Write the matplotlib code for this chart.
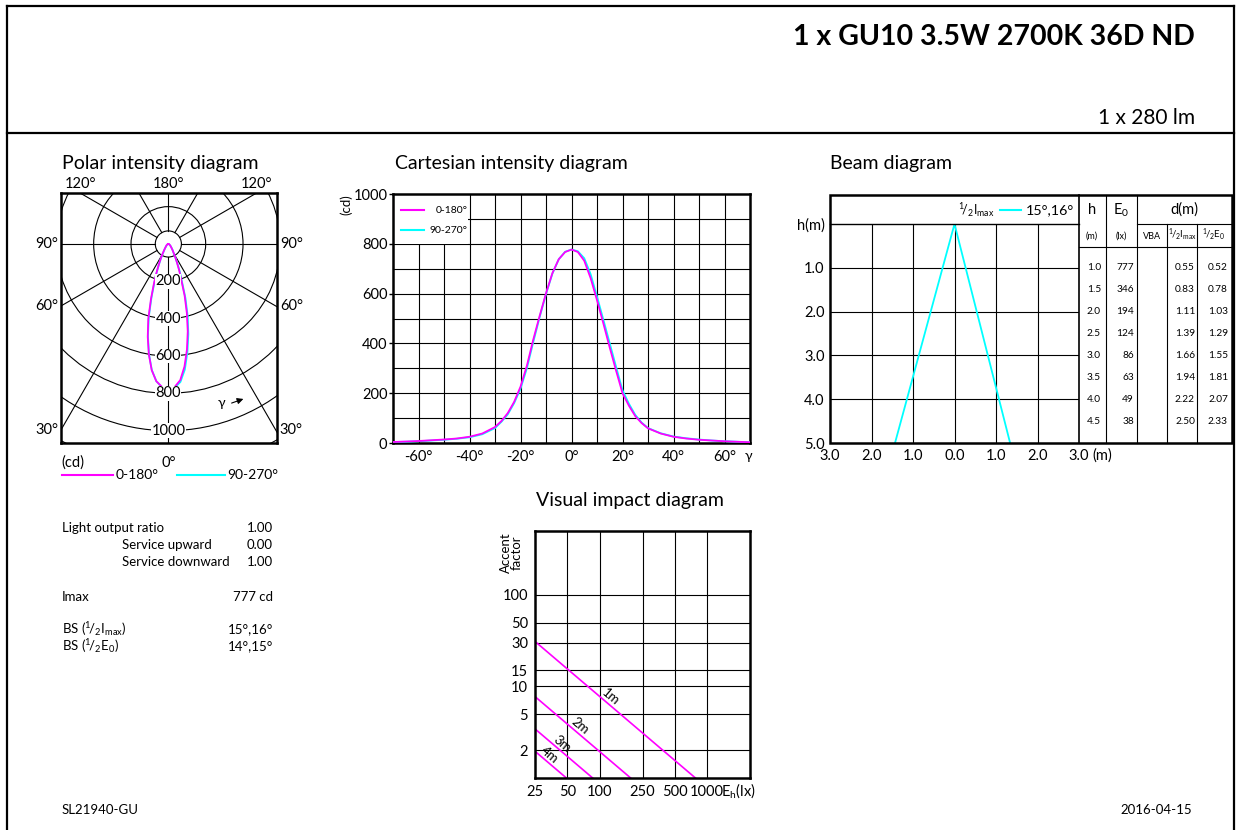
import numpy as np
import matplotlib.pyplot as plt
from matplotlib.patches import Circle, Rectangle
from matplotlib.transforms import blended_transform_factory

plt.rcParams['font.family'] = ['Lato', 'DejaVu Sans']
plt.rcParams['mathtext.fontset'] = 'custom'
plt.rcParams['mathtext.rm'] = 'Lato'
plt.rcParams['mathtext.it'] = 'Lato:italic'
plt.rcParams['mathtext.bf'] = 'Lato:bold'

# Data
title = "1 x GU10 3.5W 2700K 36D ND"
lamp_flux = "1 x 280 lm"
code = "SL21940-GU"
date = "2016-04-15"

gamma = [-90, -80, -75, -70, -65, -60, -55, -50, -45, -40, -35, -30, -27.5, -25, -22.5,
         -20, -17.5, -15, -12.5, -10, -7.5, -5, -2.5, 0, 2.5, 5, 7.5, 10, 12.5, 15,
         17.5, 20, 22.5, 25, 27.5, 30, 35, 40, 45, 50, 55, 60, 65, 70, 75, 80, 90]
i_c0 = [0, 2, 3, 4, 6, 8, 11, 14, 18, 25, 38, 64, 88, 120, 165,
        226, 310, 415, 510, 601, 682, 738, 767, 777, 767, 732, 662, 574, 480, 383,
        290, 200, 150, 108, 80, 59, 38, 25, 18, 13, 10, 7, 5, 3, 2, 1, 0]
i_c90 = [0, 2, 3, 4, 5, 7, 10, 13, 17, 23, 35, 60, 85, 115, 160,
         218, 300, 405, 505, 598, 680, 738, 768, 777, 770, 742, 678, 588, 495, 400,
         305, 212, 158, 113, 82, 60, 39, 26, 19, 14, 10, 7, 5, 3, 2, 1, 0]

heights = [1.0, 1.5, 2.0, 2.5, 3.0, 3.5, 4.0, 4.5]
e0 = [777, 346, 194, 124, 86, 63, 49, 38]
d_half_imax = [0.55, 0.83, 1.11, 1.39, 1.66, 1.94, 2.22, 2.50]
d_half_e0 = [0.52, 0.78, 1.03, 1.29, 1.55, 1.81, 2.07, 2.33]
beam_angles = (16, 15)   # left, right half angle (deg)

vi_heights = [1, 2, 3, 4]
vi_e0 = [777, 194, 86, 49]

lor, lor_up, lor_down = 1.00, 0.00, 1.00
imax = 777
bs_imax = (15, 16)
bs_e0 = (14, 15)

MAG = '#ff00ff'
CYA = '#00ffff'
HALF = r'$^{1}\!/_{2}$'

W, H = 1241, 830
fig = plt.figure(figsize=(W / 100, H / 100), dpi=100)


def px_axes(x0, y0, x1, y1):
    return fig.add_axes([x0 / W, 1 - y1 / H, (x1 - x0) / W, (y1 - y0) / H])


# overlay in pixel coordinates for frame and loose text
ov = fig.add_axes([0, 0, 1, 1])
ov.set_xlim(0, W)
ov.set_ylim(H, 0)
ov.axis('off')
ov.set_zorder(10)
ov.patch.set_visible(False)

ov.plot([7, 7], [6, H], 'k', lw=1.6)
ov.plot([7, 1234], [6, 6], 'k', lw=1.6)
ov.plot([1234, 1234], [6, H], 'k', lw=1.6)
ov.plot([7, 1234], [133, 133], 'k', lw=1.6)

ov.text(1195, 37, title, ha='right', va='center', fontsize=20.5, fontweight='bold')
ov.text(1195, 118, lamp_flux, ha='right', va='center', fontsize=15)
ov.text(62, 810, code, ha='left', va='center', fontsize=9.5)
ov.text(1192, 810, date, ha='right', va='center', fontsize=9.5)

ov.text(62, 163, "Polar intensity diagram", ha='left', va='center', fontsize=14)
ov.text(395, 164, "Cartesian intensity diagram", ha='left', va='center', fontsize=14)
ov.text(830, 163, "Beam diagram", ha='left', va='center', fontsize=14)
ov.text(536, 500, "Visual impact diagram", ha='left', va='center', fontsize=14)

# ---------------- Polar intensity diagram
pol = px_axes(61, 193, 277, 443)
pol.set_xlim(-575, 582)
pol.set_ylim(-1066, 273)
pol.set_xticks([])
pol.set_yticks([])
for s in pol.spines.values():
    s.set_linewidth(1.8)
for r in range(200, 1801, 200):
    pol.add_patch(Circle((0, 0), r, fill=False, ec='k', lw=0.8))
pol.add_patch(Circle((0, 0), 70, fill=False, ec='k', lw=0.8))
for a in range(0, 360, 30):
    t = np.radians(a)
    pol.plot([70 * np.sin(t), 2000 * np.sin(t)], [-70 * np.cos(t), -2000 * np.cos(t)], 'k', lw=0.8)
for r in range(200, 1001, 200):
    pol.text(0, -r, str(r), ha='center', va='center', fontsize=10.5,
             bbox=dict(fc='white', ec='none', pad=0.2))
g = np.radians(gamma)
pol.plot(np.array(i_c90) * np.sin(g), -np.array(i_c90) * np.cos(g), color=CYA, lw=1.3)
pol.plot(np.array(i_c0) * np.sin(g), -np.array(i_c0) * np.cos(g), color=MAG, lw=1.3)

for a in (90, 60, 30):
    t = np.radians(a)
    y = -575 * np.cos(t) / np.sin(t)
    pol.text(-590, y, f"{a}°", ha='right', va='center', fontsize=10.5, clip_on=False)
    pol.text(597, y, f"{a}°", ha='left', va='center', fontsize=10.5, clip_on=False)
t = np.radians(120)
xt = 273 * np.sin(t) / -np.cos(t)
for xx, lab in ((-xt, "120°"), (0, "180°"), (xt, "120°")):
    pol.text(xx, 322, lab, ha='center', va='center', fontsize=10.5, clip_on=False)
pol.text(0, -1133, "0°", ha='center', va='top', fontsize=10.5, clip_on=False)
pol.text(-575, -1133, "(cd)", ha='left', va='top', fontsize=10.5, clip_on=False)
ov.text(221, 403, "γ", ha='center', va='center', fontsize=10)
ov.annotate("", xy=(246, 398), xytext=(229, 404),
            arrowprops=dict(arrowstyle='-|>', color='k', lw=0.8, mutation_scale=9))

ov.plot([62, 113], [475, 475], color=MAG, lw=1.5)
ov.text(116, 475, "0-180°", ha='left', va='center', fontsize=10)
ov.plot([177, 225], [475, 475], color=CYA, lw=1.5)
ov.text(227, 475, "90-270°", ha='left', va='center', fontsize=10)

# ---------------- Cartesian intensity diagram
car = px_axes(393, 194, 750, 443)
car.set_xlim(-70, 70)
car.set_ylim(0, 1000)
for s in car.spines.values():
    s.set_linewidth(1.8)
car.vlines(np.arange(-60, 61, 10), 0, 1000, colors='k', lw=0.8, zorder=1)
car.hlines(np.arange(100, 1000, 100), -70, 70, colors='k', lw=0.8, zorder=1)
car.add_patch(Rectangle((-70, 801), 29.6, 199, fc='white', ec='none', zorder=2))
xt_c = list(range(-60, 61, 20))
car.set_xticks(xt_c, [f"{v}°" for v in xt_c])
car.set_yticks(range(0, 1001, 200))
car.tick_params(axis='x', length=0, labelsize=10.5, pad=5)
car.tick_params(axis='y', length=3, width=1, labelsize=10.5, pad=1)
car.plot(gamma, i_c90, color=CYA, lw=1.3, zorder=3)
car.plot(gamma, i_c0, color=MAG, lw=1.3, zorder=4)
car.plot([-67, -58], [935, 935], color=MAG, lw=1.5, zorder=3)
car.text(-40.8, 935, "0-180°", ha='right', va='center', fontsize=7.5, zorder=3)
car.plot([-67, -58], [855, 855], color=CYA, lw=1.5, zorder=3)
car.text(-40.8, 855, "90-270°", ha='right', va='center', fontsize=7.5, zorder=3)
ov.text(346, 205, "(cd)", rotation=90, ha='center', va='center', fontsize=9.5)
ov.text(748, 456, "γ", ha='center', va='center', fontsize=10)

# ---------------- Beam diagram
bm = px_axes(830, 224, 1079, 443)
bm.set_xlim(-3, 3)
bm.set_ylim(5, 0)
for s in bm.spines.values():
    s.set_visible(False)
bm.vlines(np.arange(-2, 3, 1), 0, 5, colors='k', lw=0.8)
bm.hlines(np.arange(1, 5, 1), -3, 3, colors='k', lw=0.8)
bm.set_yticks(range(0, 6), ['h(m)'] + [f"{v:.1f}" for v in range(1, 6)])
bm.set_xticks(range(-3, 4), [f"{abs(v):.1f}" for v in range(-3, 4)])
bm.tick_params(length=0, labelsize=10.5, pad=4)
hmax = 5
bm.plot([-hmax * np.tan(np.radians(beam_angles[0])), 0, hmax * np.tan(np.radians(beam_angles[1]))],
        [hmax, 0, hmax], color=CYA, lw=1.3)
ov.text(1092, 456, "(m)", ha='left', va='center', fontsize=10.5)

ov.add_patch(Rectangle((830, 195), 402, 248, fill=False, ec='k', lw=1.8))
ov.plot([830, 1079], [224, 224], 'k', lw=1.0)
ov.plot([1079, 1079], [195, 443], 'k', lw=1.2)
for xv in (1106, 1137):
    ov.plot([xv, xv], [195, 443], 'k', lw=0.8)
for xv in (1167, 1197):
    ov.plot([xv, xv], [224, 443], 'k', lw=0.8)
ov.plot([1137, 1232], [224, 224], 'k', lw=0.8)
ov.plot([1079, 1232], [247, 247], 'k', lw=0.8)

ov.text(1092, 210, "h", ha='center', va='center', fontsize=10.5)
ov.text(1121, 210, r"E$_0$", ha='center', va='center', fontsize=10.5)
ov.text(1184, 210, "d(m)", ha='center', va='center', fontsize=10.5)
ov.text(1092, 236, "(m)", ha='center', va='center', fontsize=6.5)
ov.text(1121, 236, "(lx)", ha='center', va='center', fontsize=6.5)
ov.text(1152, 236, "VBA", ha='center', va='center', fontsize=6.5)
ov.text(1182, 235, HALF + r"I$_{\rm max}$", ha='center', va='center', fontsize=7)
ov.text(1214, 235, HALF + r"E$_0$", ha='center', va='center', fontsize=7)

tr = blended_transform_factory(ov.transData, bm.transData)
for h, e, d1, d2 in zip(heights, e0, d_half_imax, d_half_e0):
    ov.text(1087, h, f"{h:.1f}", transform=tr, ha='left', va='center', fontsize=7.3)
    ov.text(1134, h, f"{e}", transform=tr, ha='right', va='center', fontsize=7.3)
    ov.text(1195, h, f"{d1:.2f}", transform=tr, ha='right', va='center', fontsize=7.3)
    ov.text(1228, h, f"{d2:.2f}", transform=tr, ha='right', va='center', fontsize=7.3)

ov.text(995, 210, HALF + r"I$_{\rm max}$", ha='right', va='center', fontsize=9)
ov.plot([1000, 1021], [210, 210], color=CYA, lw=1.5)
ov.text(1026, 210, f"{bs_imax[0]}°,{bs_imax[1]}°", ha='left', va='center', fontsize=10.3)

# ---------------- Visual impact diagram
vi = px_axes(535, 531, 750, 778)
vi.set_xscale('log')
vi.set_yscale('log')
vi.set_xlim(25, 2500)
vi.set_ylim(1, 500)
for s in vi.spines.values():
    s.set_linewidth(1.8)
vx = [25, 50, 100, 250, 500, 1000]
vy = [2, 5, 10, 15, 30, 50, 100]
vi.vlines(vx[1:], 1, 500, colors='k', lw=0.8)
vi.hlines(vy, 25, 2500, colors='k', lw=0.8)
vi.set_xticks(vx, [str(v) for v in vx])
vi.set_yticks(vy, [str(v) for v in vy])
vi.set_xticks([], minor=True)
vi.set_yticks([], minor=True)
vi.tick_params(length=0, labelsize=10.5, pad=5)
for hh, e in zip(vi_heights, vi_e0):
    vi.plot([25, e], [e / 25, 1], color=MAG, lw=1.2)
    xl = 25 * (e / 25) ** 0.47
    vi.text(xl, e / xl * 1.24, f"{hh}m", rotation=-40, ha='center', va='center', fontsize=9.5)
ov.text(721, 791, r"E$_{\rm h}$(lx)", ha='left', va='center', fontsize=10.5)
ov.text(511, 553, "Accent\nfactor", rotation=90, ha='center', va='center', fontsize=9.5, linespacing=0.85)

# ---------------- Summary text
rows = [
    (62, 528, "Light output ratio", f"{lor:.2f}"),
    (122, 545, "Service upward", f"{lor_up:.2f}"),
    (122, 562, "Service downward", f"{lor_down:.2f}"),
    (62, 597, "Imax", f"{imax} cd"),
    (62, 629, "BS (" + HALF + r"I$_{\rm max}$)", f"{bs_imax[0]}°,{bs_imax[1]}°"),
    (62, 646, "BS (" + HALF + r"E$_0$)", f"{bs_e0[0]}°,{bs_e0[1]}°"),
]
for x, y, lab, val in rows:
    ov.text(x, y, lab, ha='left', va='center', fontsize=9.5)
    ov.text(273, y, val, ha='right', va='center', fontsize=9.5)

fig.savefig("out.png", dpi=100)
